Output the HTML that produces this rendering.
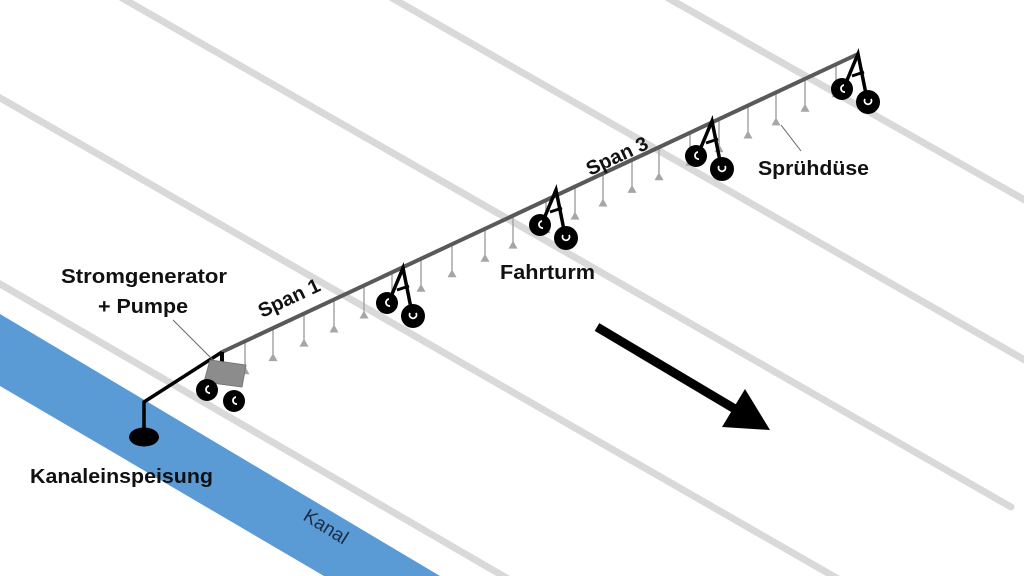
<!DOCTYPE html>
<html><head><meta charset="utf-8"><style>
html,body{margin:0;padding:0;background:#fff;}
svg{display:block}
text{font-family:"Liberation Sans",sans-serif;font-weight:bold;fill:#111;}
</style></head><body>
<svg width="1024" height="576" viewBox="0 0 1024 576" xmlns="http://www.w3.org/2000/svg">
<!-- channel -->
<polygon points="0,314 440,576 324,576 0,386" fill="#5b9bd5"/>
<!-- field lines -->
<g stroke="#d9d9d9" stroke-width="7" stroke-linecap="round">
<line x1="668" y1="-2" x2="1030" y2="203"/>
<line x1="392" y1="-2" x2="1030" y2="363"/>
<line x1="122" y1="-2" x2="1011" y2="507"/>
<line x1="-5" y1="95" x2="840" y2="580"/>
<line x1="-5" y1="281" x2="510" y2="580"/>
</g>
<text x="296" y="530" transform="rotate(32 318 535)" style="font-weight:normal;font-size:19px;fill:#1c2b46">Kanal</text>
<!-- nozzles -->
<g stroke="#a6a6a6" stroke-width="1.5" fill="#a6a6a6" id="noz"></g>
<g id="nozzles"></g>
<!-- beam -->
<line x1="222" y1="352" x2="858" y2="54" stroke="#595959" stroke-width="4"/>
<!-- pivot arm -->
<polyline points="222,352 144,402 144,432" fill="none" stroke="#000" stroke-width="3.5"/>
<ellipse cx="144" cy="437" rx="15" ry="9.5" fill="#000"/>
<!-- generator -->
<line x1="222" y1="352" x2="222" y2="362" stroke="#000" stroke-width="4"/>
<polygon points="210,360 246,365 242,387 204,382" fill="#8c8c8c" stroke="#777" stroke-width="1"/>
<g fill="#000"><circle cx="207" cy="390" r="11"/><circle cx="234" cy="401" r="11"/></g>
<g fill="none" stroke="#fff" stroke-width="1.8"><path d="M209,386 a3.5,3.5 0 1 0 1,7"/><path d="M236,397 a3.5,3.5 0 1 0 1,7"/></g>
<!-- leaders -->
<line x1="173" y1="320" x2="213" y2="360" stroke="#666" stroke-width="1"/>
<line x1="781" y1="125" x2="801" y2="151" stroke="#666" stroke-width="1"/>
<!-- towers -->
<g id="towers"></g>
<!-- arrow -->
<line x1="597" y1="327" x2="740" y2="412" stroke="#000" stroke-width="9"/>
<polygon points="770,430 745,389 722,427" fill="#000"/>
<!-- labels -->
<text x="61" y="283" font-size="20" textLength="166" lengthAdjust="spacingAndGlyphs">Stromgenerator</text>
<text x="98" y="313" font-size="20" textLength="90" lengthAdjust="spacingAndGlyphs">+ Pumpe</text>
<text x="30" y="483" font-size="20" textLength="183" lengthAdjust="spacingAndGlyphs">Kanaleinspeisung</text>
<text x="500" y="279" font-size="20" textLength="95" lengthAdjust="spacingAndGlyphs">Fahrturm</text>
<text x="758" y="175" font-size="20" textLength="111" lengthAdjust="spacingAndGlyphs">Sprühdüse</text>
<text x="262" y="318" font-size="20" transform="rotate(-25 262 318)" textLength="66" lengthAdjust="spacingAndGlyphs">Span 1</text>
<text x="590" y="176" font-size="20" transform="rotate(-25 590 176)" textLength="66" lengthAdjust="spacingAndGlyphs">Span 3</text>
</svg>
<script>
(function(){
var ns="http://www.w3.org/2000/svg";
function by(x){return 352-(x-222)*0.4686;}
var nz=document.getElementById('nozzles');
var xs=[245,273,304,334,364,392,421,452,485,513,546,575,603,632,659,690,719,748,776,805,836];
xs.forEach(function(x){
 var y=by(x), t=y+30;
 var l=document.createElementNS(ns,'line');
 l.setAttribute('x1',x);l.setAttribute('y1',y);l.setAttribute('x2',x);l.setAttribute('y2',t-4);
 l.setAttribute('stroke','#a6a6a6');l.setAttribute('stroke-width','1.5');nz.appendChild(l);
 var p=document.createElementNS(ns,'polygon');
 p.setAttribute('points',x+','+(t-5)+' '+(x-4.5)+','+(t+3)+' '+(x+4.5)+','+(t+3));
 p.setAttribute('fill','#a6a6a6');nz.appendChild(p);
});
var tw=document.getElementById('towers');
var T=[[403,268],[556,190],[712,121],[858,54]];
T.forEach(function(a){
 var x=a[0],y=a[1];
 var lw=[x-16,y+35],rw=[x+10,y+48];
 var s='<polyline points="'+(lw[0]+3)+','+(lw[1]-4)+' '+x+','+y+' '+(x+8)+','+(rw[1]-8)+'" fill="none" stroke="#000" stroke-width="3.5" stroke-linejoin="miter"/>'+
 '<line x1="'+(x-6)+'" y1="'+(y+22)+'" x2="'+(x+6)+'" y2="'+(y+18)+'" stroke="#000" stroke-width="3"/>'+
 '<circle cx="'+lw[0]+'" cy="'+lw[1]+'" r="11" fill="#000"/>'+
 '<circle cx="'+rw[0]+'" cy="'+rw[1]+'" r="12" fill="#000"/>'+
 '<path d="M'+(lw[0]+2)+','+(lw[1]-4)+' a3.5,3.5 0 1 0 1,7" fill="none" stroke="#fff" stroke-width="1.8"/>'+
 '<path d="M'+(rw[0]-3)+','+(rw[1]-3)+' a3.5,3.5 0 1 0 6,0" fill="none" stroke="#fff" stroke-width="1.8"/>';
 var g=document.createElementNS(ns,'g');g.innerHTML=s;tw.appendChild(g);
});
})();
</script>
</body></html>
